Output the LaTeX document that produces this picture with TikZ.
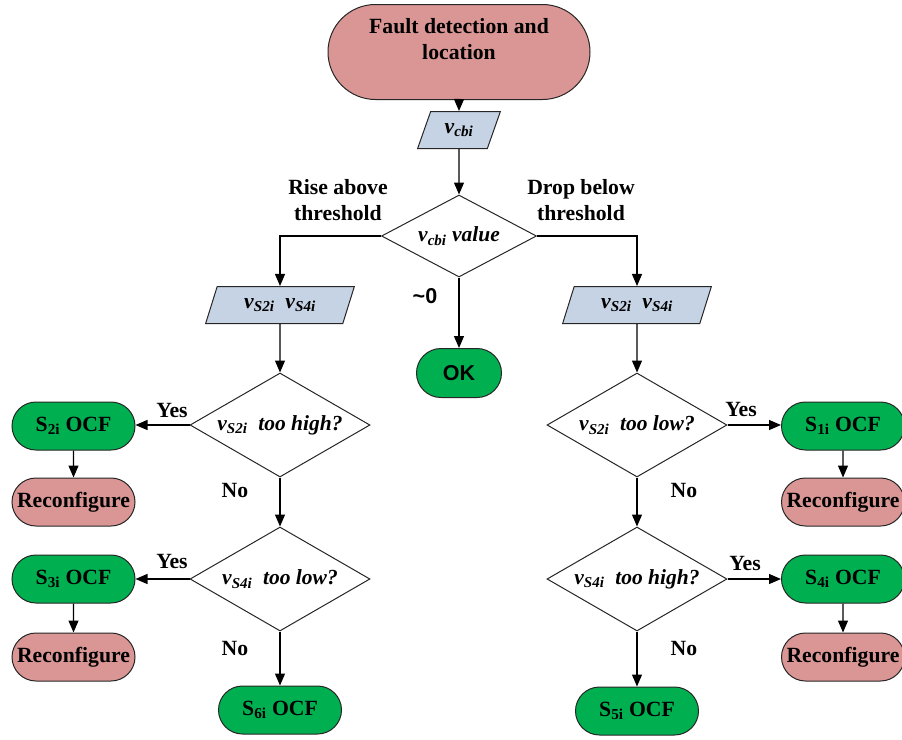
\documentclass[tikz,border=0pt]{standalone}
\usepackage{fontspec}
\setmainfont{Liberation Serif}
\newfontfamily\arialfam{Liberation Sans}
\usetikzlibrary{shapes.geometric,shapes.misc,arrows.meta}
\definecolor{pinkc}{HTML}{D99694}
\definecolor{greenc}{HTML}{00B050}
\definecolor{bluec}{HTML}{C6D3E4}
\newcommand{\vsub}[1]{\textit{v}\textsubscript{\textit{#1}}}
\begin{document}
\begin{tikzpicture}[x=1pt,y=-1pt,
  bigfont/.style={font=\fontsize{21.7}{26}\selectfont\bfseries},
  term/.style={rounded rectangle, draw=black!85, line width=1pt, minimum height=48, minimum width=123, inner sep=0pt, bigfont},
  pinkbox/.style={term, fill=pinkc},
  greenbox/.style={term, fill=greenc},
  io/.style={trapezium, trapezium left angle=64, trapezium right angle=116, trapezium stretches=true, draw=black!85, fill=bluec, line width=1pt, minimum height=37, inner sep=0pt, font=\fontsize{21.7}{26}\selectfont\bfseries\itshape},
  dec/.style={diamond, draw=black!85, line width=1pt, inner sep=0pt, font=\fontsize{21.5}{26}\selectfont\bfseries\itshape},
  bigdec/.style={dec, aspect=1.73, minimum width=180, minimum height=104},
  arr/.style={-{Triangle[length=12pt,width=10pt]}, line width=1.2pt},
  lab/.style={bigfont, align=center}
]
\useasboundingbox (0,0) rectangle (902,739);

\node[pinkbox, minimum width=262, minimum height=95, align=center] (start) at (459,52) {Fault detection and\\location\\ };
\node[io, minimum width=83] (vcbi) at (459,130) {\vsub{cbi}};
\node[dec, aspect=1.89, minimum width=155, minimum height=82] (d0) at (459,236) {\vsub{cbi} value};
\node[io, minimum width=150] (pl) at (280,305) {\vsub{S2i}\enspace\vsub{S4i}};
\node[io, minimum width=150] (pr) at (637,305) {\vsub{S2i}\enspace\vsub{S4i}};
\node[greenbox, minimum width=85, minimum height=49, font=\fontsize{21.5}{26}\selectfont\arialfam\bfseries] (ok) at (459,373) {OK};

\node[bigdec] (dl1) at (280,425) {\vsub{S2i}\ \ too high?};
\node[bigdec] (dl2) at (280,579) {\vsub{S4i}\ \ too low?};
\node[bigdec] (dr1) at (637,425) {\vsub{S2i}\ \ too low?};
\node[bigdec] (dr2) at (637,579) {\vsub{S4i}\ \ too high?};

\node[greenbox] (s2) at (73.5,426) {S\textsubscript{2i} OCF};
\node[pinkbox] (rc1) at (73.5,502) {Reconfigure};
\node[greenbox] (s3) at (73.5,579) {S\textsubscript{3i} OCF};
\node[pinkbox] (rc2) at (73.5,657) {Reconfigure};
\node[greenbox] (s6) at (280,710) {S\textsubscript{6i} OCF};

\node[greenbox] (s1) at (843,426) {S\textsubscript{1i} OCF};
\node[pinkbox] (rc3) at (843,502) {Reconfigure};
\node[greenbox] (s4) at (843,579) {S\textsubscript{4i} OCF};
\node[pinkbox] (rc4) at (843,657) {Reconfigure};
\node[greenbox] (s5) at (637,711) {S\textsubscript{5i} OCF};

\draw[arr] (start) -- (vcbi);
\draw[arr] (vcbi) -- (d0);
\draw[arr] (d0.west) -| (pl.north);
\draw[arr] (d0.east) -| (pr.north);
\draw[arr] (d0) -- (ok);
\draw[arr] (pl) -- (dl1);
\draw[arr] (pr) -- (dr1);

\draw[arr] (dl1.west) -- (s2.east |- dl1.west);
\draw[arr] (s2) -- (rc1);
\draw[arr] (dl1) -- (dl2);
\draw[arr] (dl2.west) -- (s3.east |- dl2.west);
\draw[arr] (s3) -- (rc2);
\draw[arr] (dl2) -- (s6);

\draw[arr] (dr1.east) -- (s1.west |- dr1.east);
\draw[arr] (s1) -- (rc3);
\draw[arr] (dr1) -- (dr2);
\draw[arr] (dr2.east) -- (s4.west |- dr2.east);
\draw[arr] (s4) -- (rc4);
\draw[arr] (dr2) -- (s5);

\node[lab] (t1) at (338,200) {Rise above\\threshold};
\node[lab] (t2) at (581,200) {Drop below\\threshold};
\node[font=\fontsize{21.5}{26}\selectfont\arialfam\bfseries] (t0) at (425,296) {\textasciitilde0};
\node[lab] (y1) at (172,410) {Yes};
\node[lab] (y2) at (172,561) {Yes};
\node[lab] (y3) at (741,409) {Yes};
\node[lab] (y4) at (745,563) {Yes};
\node[lab] (n1) at (235,490) {No};
\node[lab] (n2) at (235,648) {No};
\node[lab] (n3) at (684,490) {No};
\node[lab] (n4) at (684,648) {No};
\end{tikzpicture}
\end{document}
